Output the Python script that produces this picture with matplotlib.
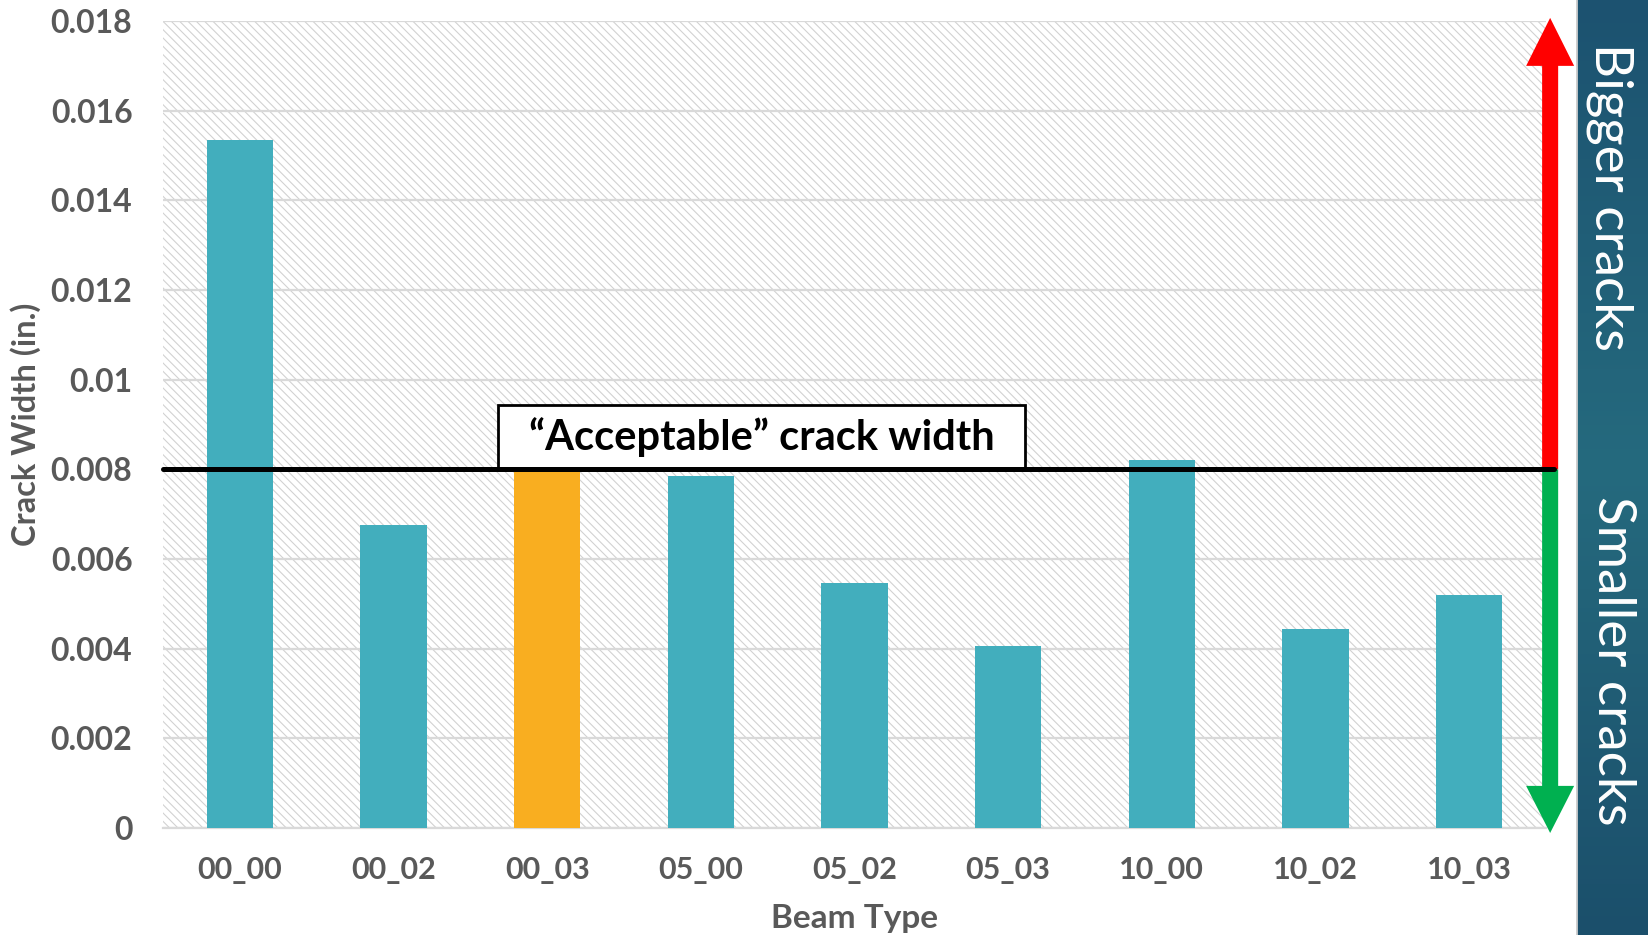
import matplotlib
matplotlib.use('Agg')
import matplotlib.pyplot as plt
import matplotlib.transforms as mtransforms
from matplotlib.patches import Rectangle, FancyArrow
from matplotlib.colors import LinearSegmentedColormap
import numpy as np

plt.rcParams['font.family'] = ['Lato', 'DejaVu Sans']
plt.rcParams['hatch.linewidth'] = 0.8

# data
beam_types = ['00_00', '00_02', '00_03', '05_00', '05_02', '05_03', '10_00', '10_02', '10_03']
crack_width = [0.01535, 0.00677, 0.0080, 0.00785, 0.00546, 0.00405, 0.0082, 0.00445, 0.0052]
highlight = '00_03'
acceptable = 0.008
y_ticks = [0, 0.002, 0.004, 0.006, 0.008, 0.01, 0.012, 0.014, 0.016, 0.018]

teal = '#42aebd'
orange = '#f9ae20'
gray_txt = '#595959'

fig = plt.figure(figsize=(16.48, 9.35), dpi=100)
ax = fig.add_axes([0.0989, 0.1144, 0.8392, 0.8631])

# hatched background
ax.add_patch(Rectangle((0, 0), 1, 1, transform=ax.transAxes, facecolor='white',
                       edgecolor='#d2d2d2', hatch='\\' * 4, lw=0, zorder=0))

x = np.arange(len(beam_types))
colors = [orange if b == highlight else teal for b in beam_types]
ax.bar(x, crack_width, width=0.43, color=colors, zorder=3)

ax.set_xlim(-0.5, len(beam_types) - 0.5)
ax.set_ylim(0, 0.018)
ax.set_yticks(y_ticks)
ax.set_yticklabels(['{:g}'.format(t) for t in y_ticks])
ax.set_xticks(x)
ax.set_xticklabels(beam_types)
ax.tick_params(axis='both', length=0, colors=gray_txt, labelsize=22)
ax.tick_params(axis='y', pad=22, labelsize=23)
ax.tick_params(axis='x', pad=20)
for lab in ax.get_xticklabels() + ax.get_yticklabels():
    lab.set_fontweight('bold')

ax.grid(True, axis='y', color='#d9d9d9', lw=1.6, zorder=1)
ax.set_axisbelow(True)
for s in ['top', 'right', 'left']:
    ax.spines[s].set_visible(False)
ax.spines['bottom'].set_color('#d9d9d9')
ax.spines['bottom'].set_linewidth(1.6)

ax.set_xlabel('Beam Type', fontsize=24, fontweight='bold', color=gray_txt, va='center')
ax.xaxis.set_label_coords(0.5, -0.1115)
ax.set_ylabel('Crack Width (in.)', fontsize=23.5, fontweight='bold', color=gray_txt, va='center')
ax.yaxis.set_label_coords(-0.099, 0.5)

# acceptable limit line + label box
ax.plot([-0.5, 8.55], [acceptable, acceptable], color='black', lw=3.6,
        solid_capstyle='round', zorder=5, clip_on=False)
ax.add_patch(Rectangle((1.68, acceptable), 5.11 - 1.68, 0.00144, facecolor='white',
                       edgecolor='black', lw=2, zorder=4))
ax.text(3.40, acceptable + 0.00072, '\u201cAcceptable\u201d crack width', fontsize=30,
        fontweight='bold', color='black', ha='center', va='center', zorder=6)

# bigger / smaller arrows on the right
trans = mtransforms.blended_transform_factory(ax.transAxes, ax.transData)
ax.add_patch(FancyArrow(1.003, acceptable, 0, 0.01807 - acceptable, width=0.0116,
                        head_width=0.0347, head_length=0.00107, length_includes_head=True,
                        color='#ff0000', lw=0, transform=trans, clip_on=False, zorder=4))
ax.add_patch(FancyArrow(1.003, acceptable, 0, -0.00011 - acceptable, width=0.0116,
                        head_width=0.0347, head_length=0.00105, length_includes_head=True,
                        color='#00b050', lw=0, transform=trans, clip_on=False, zorder=4))

# dark side panel
pax = fig.add_axes([1576 / 1648, 0, 72 / 1648, 1])
cmap = LinearSegmentedColormap.from_list('panel', ['#1c5270', '#256a7e', '#1b4f6b'])
pax.imshow(np.linspace(0, 1, 200).reshape(-1, 1), aspect='auto', cmap=cmap,
           extent=[0, 1, 0, 1], origin='upper')
pax.axvline(0, color='#cfcfcf', lw=2)
pax.set_axis_off()

fig.text(1610 / 1648, 1 - 197 / 935, 'Bigger cracks', rotation=-90, color='white',
         fontsize=38, ha='center', va='center')
fig.text(1612 / 1648, 1 - 661 / 935, 'Smaller cracks', rotation=-90, color='white',
         fontsize=38, ha='center', va='center')

fig.savefig('out.png', dpi=100)
